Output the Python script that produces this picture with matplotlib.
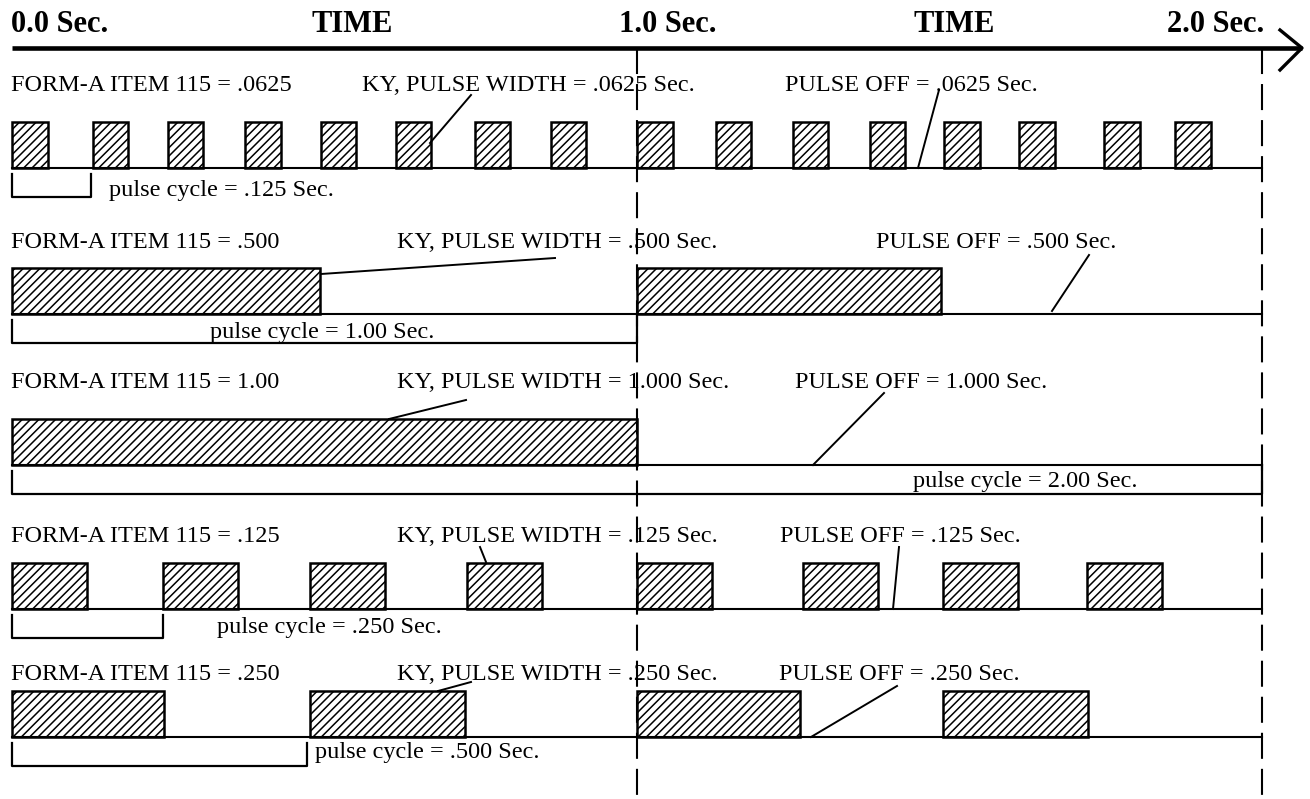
import matplotlib
matplotlib.use('Agg')
import matplotlib.pyplot as plt

# ---------------- DONNEES ----------------
# valeurs FORM-A ITEM 115 pour chaque ligne
item_values = ['.0625', '.500', '1.00', '.125', '.250']
width_labels = ['.0625', '.500', '1.000', '.125', '.250']
off_labels = ['.0625', '.500', '1.000', '.125', '.250']
cycle_labels = ['.125', '1.00', '2.00', '.250', '.500']

# debut des impulsions (s)
starts_1 = [0.0, 0.129, 0.249, 0.373, 0.494, 0.614, 0.740, 0.862,
            1.0, 1.126, 1.249, 1.372, 1.491, 1.611, 1.747, 1.861]
widths_1 = [0.057] * 16
starts_2 = [0.0, 1.0]
widths_2 = [0.493, 0.486]
starts_3 = [0.0]
widths_3 = [1.0]
starts_4 = [0.0, 0.242, 0.477, 0.728, 1.0, 1.266, 1.490, 1.720]
widths_4 = [0.12] * 8
starts_5 = [0.0, 0.477, 1.0, 1.490]
widths_5 = [0.243, 0.248, 0.261, 0.232]

pulse_starts = [starts_1, starts_2, starts_3, starts_4, starts_5]
pulse_widths = [widths_1, widths_2, widths_3, widths_4, widths_5]

# largeur du crochet "pulse cycle" (s)
cycle_span = [0.126, 1.0, 2.0, 0.242, 0.472]

# ---------------- MISE EN PAGE ----------------
X0 = 12.0     # pixel de t = 0
PPS = 625.0   # pixels par seconde


def t(px):
    ''' convertit une position pixel en secondes '''
    return (px - X0) / PPS


row_base = [168, 314, 465, 609, 737]      # ligne de base de chaque rangee
pulse_h = 46
label_y = [91, 248, 388, 542, 680]
ky_x = [362, 397, 397, 397, 397]
off_x = [785, 876, 795, 780, 779]
cycle_x = [109, 210, 913, 217, 315]
cycle_y = [196, 338, 487, 633, 758]
ky_lead = [((471, 95), (430, 143)), ((555, 258), (321, 274)), ((466, 400), (389, 419)),
           ((480, 547), (486, 562)), ((471, 682), (438, 691))]
off_lead = [((939, 90), (918, 168)), ((1089, 255), (1052, 311)), ((884, 393), (813, 465)),
            ((899, 547), (893, 609)), ((897, 686), (811, 737))]

plt.rcParams['font.family'] = ['Liberation Serif', 'DejaVu Serif']
plt.rcParams['hatch.linewidth'] = 1.1

fig = plt.figure(figsize=(13.1, 7.99), dpi=100)
ax = fig.add_axes([0, 0, 1, 1])
ax.set_xlim(t(0), t(1310))
ax.set_ylim(799, 0)
ax.axis('off')

# axe du temps
ax.plot([0, t(1302)], [48, 48], color='black', lw=3.3, solid_capstyle='butt')
ax.plot([t(1280), t(1302), t(1280)], [30, 48, 70], color='black', lw=2.4)
fs_top = 22
ax.text(t(11), 32, '0.0 Sec.', fontsize=fs_top, fontweight='bold', ha='left', va='baseline')
ax.text(t(352), 32, 'TIME', fontsize=fs_top, fontweight='bold', ha='center', va='baseline')
ax.text(t(668), 32, '1.0 Sec.', fontsize=fs_top, fontweight='bold', ha='center', va='baseline')
ax.text(t(954), 32, 'TIME', fontsize=fs_top, fontweight='bold', ha='center', va='baseline')
ax.text(t(1216), 32, '2.0 Sec.', fontsize=fs_top, fontweight='bold', ha='center', va='baseline')

# traits verticaux pointilles a 1.0 et 2.0 s
for xv in [1.0, 2.0]:
    ax.plot([xv, xv], [48, 799], color='black', lw=1.5, linestyle=(0, (12.5, 4.8)), zorder=5)

fs = 17.5
for i in range(5):
    base = row_base[i]
    # impulsions hachurees
    ax.bar(pulse_starts[i], -pulse_h, width=pulse_widths[i], bottom=base, align='edge',
           fill=False, hatch='////', edgecolor='black', lw=1.8, zorder=2)
    # ligne de base
    ax.plot([0, 2.0], [base, base], color='black', lw=1.5, zorder=3)

    # crochet pulse cycle
    c = cycle_span[i]
    ax.plot([0, 0, c, c], [base + 6, base + 29, base + 29, base + 6 if c < 1 else base],
            color='black', lw=1.6)

    ax.text(t(11), label_y[i], 'FORM-A ITEM 115 = ' + item_values[i], fontsize=fs,
            ha='left', va='baseline')
    ax.text(t(ky_x[i]), label_y[i], 'KY, PULSE WIDTH = ' + width_labels[i] + ' Sec.',
            fontsize=fs, ha='left', va='baseline')
    ax.text(t(off_x[i]), label_y[i], 'PULSE OFF = ' + off_labels[i] + ' Sec.',
            fontsize=fs, ha='left', va='baseline')
    ax.text(t(cycle_x[i]), cycle_y[i], 'pulse cycle = ' + cycle_labels[i] + ' Sec.',
            fontsize=fs, ha='left', va='baseline')

    # traits de rappel
    for (p1, p2) in [ky_lead[i], off_lead[i]]:
        ax.plot([t(p1[0]), t(p2[0])], [p1[1], p2[1]], color='black', lw=1.4)

fig.savefig('out.png', dpi=100)
